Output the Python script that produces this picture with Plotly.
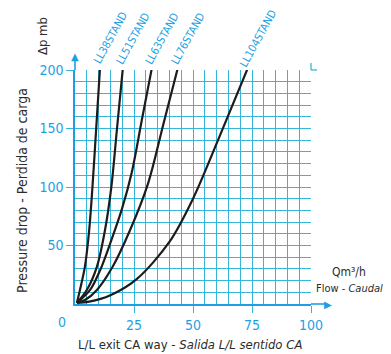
import plotly.graph_objects as go

# curve data: flow Q (m3/h) vs pressure drop (mb)
names = ["LL38STAND", "LL51STAND", "LL63STAND", "LL76STAND", "LL104STAND"]
q_ll38 = [0.8, 2.1, 4.2, 6.0, 7.4, 9.2, 10.6]
dp_ll38 = [1, 12, 32, 63, 100, 157, 202]
q_ll51 = [0.8, 5.0, 9.3, 12.7, 15.4, 17.8, 20.3]
dp_ll51 = [1, 12, 32, 63, 100, 150, 202]
q_ll63 = [0.8, 6.4, 11.3, 16.0, 20.0, 24.0, 28.3, 32.6]
dp_ll63 = [1, 12, 32, 58, 82, 112, 157, 202]
q_ll76 = [0.8, 4.2, 9.3, 16.0, 23.3, 30.8, 37.6, 43.6]
dp_ll76 = [1, 3.4, 12, 32, 63, 102, 155, 202]
q_ll104 = [0.8, 6.0, 15, 26, 40, 50, 61, 73.3]
dp_ll104 = [1, 2, 7.5, 21, 53, 90, 142, 202]

x_ticks = [25, 50, 75, 100]
y_ticks = [50, 100, 150, 200]

series = [
    (q_ll38, dp_ll38),
    (q_ll51, dp_ll51),
    (q_ll63, dp_ll63),
    (q_ll76, dp_ll76),
    (q_ll104, dp_ll104),
]

X_MAX, Y_MAX = 100, 200
PLOT_W, PLOT_H = 236, 234  # plot area size in px, used for paper offsets
FONT = "Liberation Sans Narrow, DejaVu Sans Condensed, Arial Narrow, sans-serif"
BLUE = "#1f9fe3"
GRID = "#36b6d8"
DARK = "#2b2b2b"

fig = go.Figure()
for name, (q, dp) in zip(names, series):
    fig.add_trace(
        go.Scatter(
            x=q,
            y=dp,
            mode="lines",
            name=name,
            line=dict(color="#1c1c1c", width=2.2, shape="spline", smoothing=0.9),
            hoverinfo="skip",
        )
    )
    # curve label, rotated, centred a little right of / above the curve end
    fig.add_annotation(
        x=q[-1] / X_MAX + 10 / PLOT_W,
        y=1 + 32 / PLOT_H,
        xref="paper",
        yref="paper",
        text=name,
        textangle=-61,
        showarrow=False,
        xanchor="center",
        yanchor="middle",
        font=dict(family=FONT, size=11, color=BLUE),
    )

grid_axis = dict(
    showgrid=True,
    gridcolor=GRID,
    gridwidth=1.3,
    zeroline=False,
    showline=True,
    linecolor=BLUE,
    linewidth=1.5,
    ticks="outside",
    ticklen=7,
    tickcolor=GRID,
    tickwidth=1.3,
    automargin=False,
    tickfont=dict(family=FONT, size=14, color=BLUE),
)

fig.update_xaxes(
    range=[0, X_MAX],
    tickvals=x_ticks,
    minor=dict(dtick=5, showgrid=True, gridcolor=GRID, gridwidth=1.3),
    **grid_axis,
)
fig.update_yaxes(
    range=[0, Y_MAX],
    tickvals=y_ticks,
    minor=dict(dtick=10, showgrid=True, gridcolor=GRID, gridwidth=1.3),
    **grid_axis,
)

# axis arrows: shafts as paper shapes, heads as triangle glyphs
px_x, px_y = 1 / PLOT_W, 1 / PLOT_H
fig.add_shape(type="line", xref="paper", yref="paper", x0=0, x1=0, y0=1, y1=1 + 12 * px_y,
              line=dict(color=BLUE, width=1.6))
fig.add_shape(type="line", xref="paper", yref="paper", x0=1, x1=1 + 14 * px_x, y0=0, y1=0,
              line=dict(color=BLUE, width=1.6))
fig.add_annotation(x=0, y=1 + 14 * px_y, xref="paper", yref="paper", text="▲",
                   showarrow=False, xanchor="center", yanchor="middle",
                   font=dict(family="DejaVu Sans", size=10, color=BLUE))
fig.add_annotation(x=1 + 17 * px_x, y=0, xref="paper", yref="paper", text="▶",
                   showarrow=False, xanchor="center", yanchor="middle",
                   font=dict(family="DejaVu Sans", size=10, color=BLUE))
# small grid overhangs at the top right corner
fig.add_shape(type="line", xref="paper", yref="paper", x0=1, x1=1, y0=1, y1=1 + 7 * px_y,
              line=dict(color=GRID, width=1.3))
fig.add_shape(type="line", xref="paper", yref="paper", x0=1, x1=1 + 6 * px_x, y0=1, y1=1,
              line=dict(color=GRID, width=1.3))


# texts (explicit anchors: "auto" snaps paper annotations to their nearest side)
def label(x, y, text, size, color=DARK, angle=0):
    fig.add_annotation(x=x, y=y, xref="paper", yref="paper", text=text, textangle=angle,
                       showarrow=False, xanchor="center", yanchor="middle",
                       font=dict(family=FONT, size=size, color=color))


label(-0.055, -0.077, "0", 14, BLUE)
label(-0.225, 0.487, "Pressure drop - Perdida de carga", 14, angle=-90)
label(-0.14, 1.145, "Δp mb", 13, angle=-90)
label(0.487, -0.171, "L/L exit CA way - <i>Salida L/L sentido CA</i>", 13)
label(1.162, 0.137, "Qm³/h", 12)
label(1.162, 0.068, "Flow - <i>Caudal</i>", 11)

# the page body adds an 8px margin, so the figure is sized to fit the window
fig.update_layout(
    width=383,
    height=346,
    margin=dict(l=67, r=80, t=62, b=50, autoexpand=False),
    paper_bgcolor="white",
    plot_bgcolor="white",
    showlegend=False,
    font=dict(family=FONT),
)

fig.write_html("out.html")
